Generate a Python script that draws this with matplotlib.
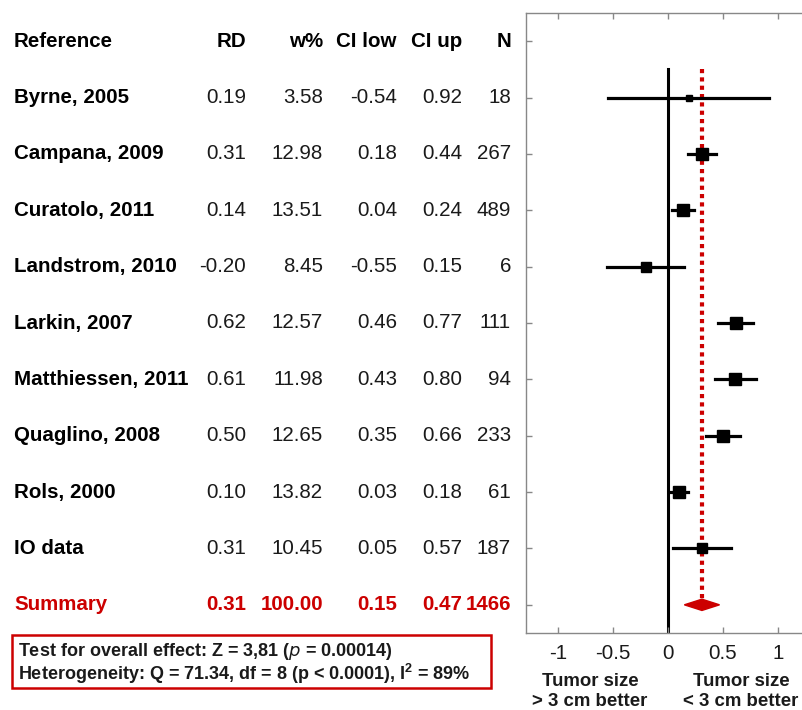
import numpy as np
import matplotlib.pyplot as plt
from matplotlib.transforms import blended_transform_factory
from matplotlib.patches import Polygon, Rectangle

plt.rcParams['font.family'] = ['Liberation Sans', 'DejaVu Sans']

# ---------------- data ----------------
studies = ['Byrne, 2005', 'Campana, 2009', 'Curatolo, 2011', 'Landstrom, 2010',
           'Larkin, 2007', 'Matthiessen, 2011', 'Quaglino, 2008', 'Rols, 2000', 'IO data']
rd = [0.19, 0.31, 0.14, -0.20, 0.62, 0.61, 0.50, 0.10, 0.31]
weight = [3.58, 12.98, 13.51, 8.45, 12.57, 11.98, 12.65, 13.82, 10.45]
ci_low = [-0.54, 0.18, 0.04, -0.55, 0.46, 0.43, 0.35, 0.03, 0.05]
ci_up = [0.92, 0.44, 0.24, 0.15, 0.77, 0.80, 0.66, 0.18, 0.57]
n = [18, 267, 489, 6, 111, 94, 233, 61, 187]

sum_rd, sum_w, sum_low, sum_up, sum_n = 0.31, 100.00, 0.15, 0.47, 1466

headers = ['Reference', 'RD', 'w%', 'CI low', 'CI up', 'N']
xticks = [-1, -0.5, 0, 0.5, 1]

red = '#cc0000'
txt = '#1a1a1a'

# ---------------- figure ----------------
fig = plt.figure(figsize=(8.02, 7.10), dpi=100)
ax = fig.add_axes([526 / 802, 1 - 633 / 710, 276 / 802, 620 / 710])

rows = np.arange(1, len(studies) + 1)
sum_row = len(studies) + 1

# reference line at 0 and summary line
ax.plot([0, 0], [0.5, 10.5], color='black', lw=2.2, zorder=1)
ax.plot([sum_rd, sum_rd], [0.5, sum_row], color=red, lw=3, linestyle=(0, (1, 1)), zorder=2)

# study CIs and squares
for i, r in enumerate(rows):
    ax.plot([ci_low[i], ci_up[i]], [r, r], color='black', lw=2.3, zorder=3)
    ms = 3.3 * np.sqrt(weight[i]) * 0.72
    ax.plot(rd[i], r, marker='s', color='black', markersize=ms, zorder=4)

# summary diamond
dh = 0.1
diamond = Polygon([[sum_low, sum_row], [sum_rd, sum_row - dh], [sum_up, sum_row],
                   [sum_rd, sum_row + dh]], closed=True, color=red, zorder=5)
ax.add_patch(diamond)

ax.set_xlim(-1.29, 1.22)
ax.set_ylim(10.5, -0.5)
ax.set_xticks(xticks)
ax.set_xticklabels(['-1', '-0.5', '0', '0.5', '1'], fontsize=14.8, color=txt)
ax.set_yticks(np.arange(0, 11))
ax.set_yticklabels([])
ax.tick_params(direction='in', length=4, color='#888888', top=True, width=1)
ax.tick_params(axis='x', pad=8)
ax.spines['right'].set_visible(False)
for s in ['left', 'top', 'bottom']:
    ax.spines[s].set_color('#888888')
    ax.spines[s].set_linewidth(1)

# ---------------- table text ----------------
tr = blended_transform_factory(fig.transFigure, ax.transData)
col_x = [14, 246, 323, 397, 462, 511]
fs = 14.8

ax.text(col_x[0] / 802, 0, headers[0], transform=tr, ha='left', va='center',
        fontsize=fs, fontweight='bold', color='black')
for j in range(1, 6):
    ax.text(col_x[j] / 802, 0, headers[j], transform=tr, ha='right', va='center',
            fontsize=fs, fontweight='bold', color='black')

for i, r in enumerate(rows):
    ax.text(col_x[0] / 802, r, studies[i], transform=tr, ha='left', va='center',
            fontsize=fs, fontweight='bold', color='black')
    vals = ['%.2f' % rd[i], '%.2f' % weight[i], '%.2f' % ci_low[i], '%.2f' % ci_up[i], str(n[i])]
    for j, v in enumerate(vals):
        ax.text(col_x[j + 1] / 802, r, v, transform=tr, ha='right', va='center',
                fontsize=fs, color=txt)

ax.text(col_x[0] / 802, sum_row, 'Summary', transform=tr, ha='left', va='center',
        fontsize=fs, fontweight='bold', color=red)
svals = ['%.2f' % sum_rd, '%.2f' % sum_w, '%.2f' % sum_low, '%.2f' % sum_up, str(sum_n)]
for j, v in enumerate(svals):
    ax.text(col_x[j + 1] / 802, sum_row, v, transform=tr, ha='right', va='center',
            fontsize=fs, fontweight='bold', color=red)

# ---------------- stats box ----------------
fig.patches.append(Rectangle((12 / 802, 1 - 688 / 710), 479 / 802, 53 / 710,
                             transform=fig.transFigure, fill=False, edgecolor=red, lw=1.8))
fig.text(18 / 802, 1 - 652 / 710, r'Test for overall effect: Z = 3,81 ($\mathit{p}$ = 0.00014)',
         fontsize=13, fontweight='bold', va='center', color=txt)
fig.text(18 / 802, 1 - 674 / 710, r'Heterogeneity: Q = 71.34, df = 8 (p < 0.0001), I$^{\mathregular{2}}$ = 89%',
         fontsize=13, fontweight='bold', va='center', color=txt)

# ---------------- direction labels ----------------
fig.text(590 / 802, 1 - 682 / 710, 'Tumor size', ha='center', va='center',
         fontsize=13.4, fontweight='bold', color=txt)
fig.text(590 / 802, 1 - 701 / 710, '> 3 cm better', ha='center', va='center',
         fontsize=13.4, fontweight='bold', color=txt)
fig.text(741 / 802, 1 - 682 / 710, 'Tumor size', ha='center', va='center',
         fontsize=13.4, fontweight='bold', color=txt)
fig.text(741 / 802, 1 - 701 / 710, '< 3 cm better', ha='center', va='center',
         fontsize=13.4, fontweight='bold', color=txt)

plt.savefig('out.png', dpi=100)
